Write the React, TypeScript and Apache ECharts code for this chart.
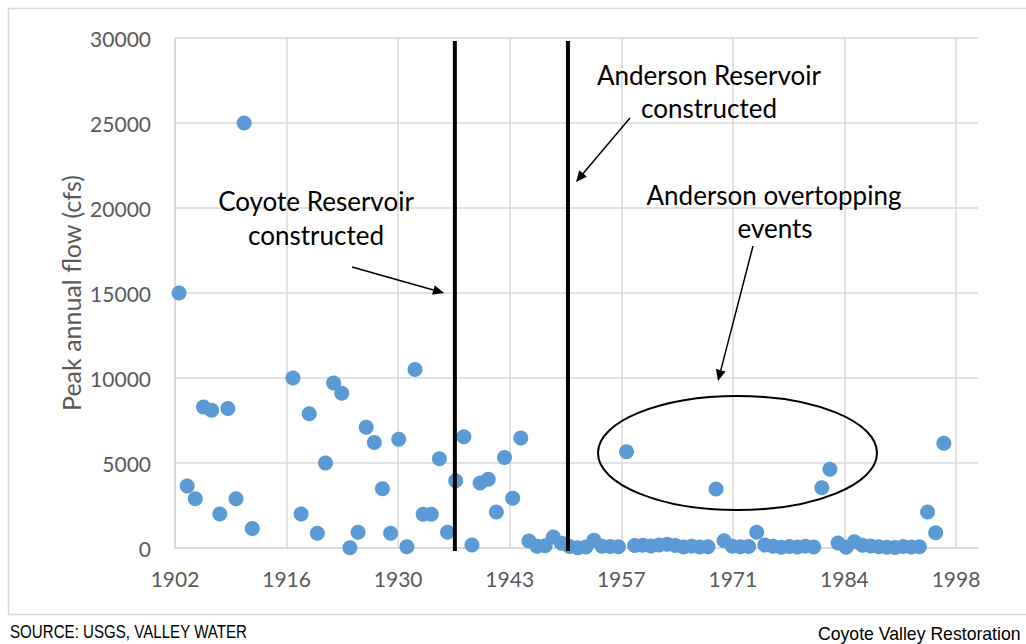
import React, { useEffect, useRef } from "react";
import * as echarts from "echarts";

// ---- data ----
const yearsEarly = [1902, 1903, 1904, 1905, 1906, 1907, 1908, 1909, 1910, 1911];
const flowEarly = [15000, 3650, 2900, 8300, 8100, 2000, 8200, 2900, 25000, 1150];

const yearsMid = [
  1916, 1917, 1918, 1919, 1920, 1921, 1922, 1923, 1924, 1925, 1926, 1927, 1928, 1929, 1930,
  1931, 1932, 1933, 1934, 1935, 1936, 1937, 1938, 1939, 1940, 1941, 1942, 1943, 1944,
];
const flowMid = [
  10000, 2000, 7900, 870, 5000, 9700, 9100, 20, 920, 7100, 6200, 3490, 870, 6400, 80,
  10500, 1980, 1980, 5250, 920, 3960, 6550, 180, 3820, 4040, 2120, 5320, 2920, 6470,
];

const yearsLate = [
  1945, 1946, 1947, 1948, 1949, 1950, 1951, 1952, 1953, 1954, 1955, 1956, 1957, 1958, 1959,
  1960, 1961, 1962, 1963, 1964, 1965, 1966, 1967, 1968, 1969, 1970, 1971, 1972, 1973, 1974,
  1975, 1976, 1977, 1978, 1979, 1980, 1981, 1982, 1983, 1984, 1985, 1986, 1987, 1988, 1989,
  1990, 1991, 1992, 1993, 1994, 1995, 1996,
];
const flowLate = [
  410, 100, 130, 650, 280, 90, 20, 60, 450, 100, 90, 70, 5660, 140, 160,
  120, 180, 220, 150, 60, 110, 60, 70, 3470, 420, 100, 80, 90, 930, 180,
  100, 40, 90, 60, 110, 60, 3550, 4630, 300, 40, 370, 160, 120, 70, 40,
  30, 90, 60, 70, 2120, 900, 6160,
];

const xTickLabels = ["1902", "1916", "1930", "1943", "1957", "1971", "1984", "1998"];
const X_MIN = 1902;
const X_LAST_TICK = 1998;
const X_PLOT_END = 2000.7; // plot area extends a little past the last labelled tick
const Y_MIN = 0;
const Y_MAX = 30000;
const Y_STEP = 5000;

const damYears = [1936.4, 1950.3]; // Coyote, Anderson reservoirs

const FONT = "Lato, 'Open Sans', sans-serif";
const GRID_COLOR = "#d9d9d9";
const LABEL_COLOR = "#595959";

function arrow(x1: number, y1: number, x2: number, y2: number) {
  const a = Math.atan2(y2 - y1, x2 - x1);
  const len = 11;
  const hw = 5;
  const bx = x2 - len * Math.cos(a);
  const by = y2 - len * Math.sin(a);
  const px = -Math.sin(a) * hw;
  const py = Math.cos(a) * hw;
  return [
    {
      type: "line",
      shape: { x1, y1, x2: bx, y2: by },
      style: { stroke: "#000", lineWidth: 1.5 },
      silent: true,
    },
    {
      type: "polygon",
      shape: { points: [[x2, y2], [bx + px, by + py], [bx - px, by - py]] },
      style: { fill: "#000" },
      silent: true,
    },
  ];
}

function annot(text: string, x: number, y: number) {
  return {
    type: "text",
    x,
    y,
    silent: true,
    style: {
      text,
      fill: "#000",
      font: `26px ${FONT}`,
      textAlign: "center",
      textVerticalAlign: "middle",
    },
  };
}

export default function App() {
  const ref = useRef<HTMLDivElement>(null);

  useEffect(() => {
    const chart = echarts.init(ref.current!, null, { renderer: "svg", width: 1026, height: 644 });

    const data: number[][] = [];
    // markers sit at the middle of each year
    yearsEarly.forEach((y, i) => data.push([y + 0.5, flowEarly[i]]));
    yearsMid.forEach((y, i) => data.push([y + 0.5, flowMid[i]]));
    yearsLate.forEach((y, i) => data.push([y + 0.5, flowLate[i]]));

    const baseGraphics: any[] = [
      {
        type: "rect",
        shape: { x: 8.5, y: 8.5, width: 1040, height: 606 },
        style: { fill: "none", stroke: GRID_COLOR, lineWidth: 1.5 },
        silent: true,
        z: -1,
      },
      annot("Coyote Reservoir", 316, 201),
      annot("constructed", 316, 235),
      annot("Anderson Reservoir", 709, 75),
      annot("constructed", 709, 108),
      annot("Anderson overtopping", 774, 195),
      annot("events", 775, 228),
      ...arrow(352, 267, 444, 293),
      ...arrow(630, 118, 576, 182),
      ...arrow(753, 246, 718, 381),
      {
        type: "ellipse",
        shape: { cx: 737.5, cy: 453, rx: 139.5, ry: 57 },
        style: { fill: "none", stroke: "#000", lineWidth: 2 },
        silent: true,
      },
      {
        type: "text",
        x: 10,
        y: 632,
        scaleX: 0.84,
        silent: true,
        style: {
          text: "SOURCE: USGS, VALLEY WATER",
          fill: "#000",
          font: "18px 'Liberation Sans', Arial, sans-serif",
          textVerticalAlign: "middle",
        },
      },
      {
        type: "text",
        x: 818,
        y: 634,
        scaleX: 0.98,
        silent: true,
        style: {
          text: "Coyote Valley Restoration",
          fill: "#000",
          font: "18px 'Liberation Sans', Arial, sans-serif",
          textVerticalAlign: "middle",
        },
      },
    ];

    chart.setOption({
      animation: false,
      backgroundColor: "#fff",
      textStyle: { fontFamily: FONT },
      grid: [
        { left: 175, right: 70, top: 38, bottom: 96 },
        { left: 175, right: 48, top: 38, bottom: 96 },
      ],
      xAxis: [
        {
          gridIndex: 0,
          type: "value",
          min: X_MIN,
          max: X_LAST_TICK,
          interval: (X_LAST_TICK - X_MIN) / (xTickLabels.length - 1),
          axisLine: { show: false },
          axisTick: { show: false },
          splitLine: { show: true, lineStyle: { color: GRID_COLOR, width: 1.5 } },
          axisLabel: {
            formatter: (_v: number, i: number) => xTickLabels[i] ?? "",
            color: LABEL_COLOR,
            fontSize: 21,
            fontFamily: FONT,
            margin: 20,
          },
        },
        {
          gridIndex: 1,
          type: "value",
          min: X_MIN,
          max: X_PLOT_END,
          axisLine: { show: true, lineStyle: { color: GRID_COLOR, width: 1.5 } },
          axisTick: { show: false },
          splitLine: { show: false },
          axisLabel: { show: false },
        },
      ],
      yAxis: [
        { gridIndex: 0, type: "value", min: Y_MIN, max: Y_MAX, show: false, splitLine: { show: false } },
        {
          gridIndex: 1,
          type: "value",
          min: Y_MIN,
          max: Y_MAX,
          interval: Y_STEP,
          axisLine: { show: true, lineStyle: { color: GRID_COLOR, width: 1.5 } },
          axisTick: { show: false },
          splitLine: { show: true, lineStyle: { color: GRID_COLOR, width: 1.5 } },
          axisLabel: {
            color: LABEL_COLOR,
            fontSize: 21,
            fontFamily: FONT,
            margin: 24,
            formatter: (v: number) => String(v),
          },
          name: "Peak annual flow (cfs)",
          nameLocation: "middle",
          nameGap: 92,
          nameMoveOverlap: false,
          nameTextStyle: { color: LABEL_COLOR, fontSize: 25, fontFamily: FONT },
        },
      ],
      series: [
        {
          type: "scatter",
          xAxisIndex: 1,
          yAxisIndex: 1,
          data,
          symbolSize: 15,
          clip: false,
          itemStyle: { color: "#5b9bd5", opacity: 1 },
          z: 3,
        },
      ],
      graphic: baseGraphics,
    });

    const damLines = damYears.map((yr) => {
      const px = chart.convertToPixel({ xAxisIndex: 1, yAxisIndex: 1 } as any, [yr, 0]) as number[];
      return {
        type: "line",
        shape: { x1: px[0], y1: 41, x2: px[0], y2: 551 },
        style: { stroke: "#000", lineWidth: 4 },
        silent: true,
        z: 10,
      };
    });
    chart.setOption({ graphic: [...baseGraphics, ...damLines] }, { replaceMerge: ["graphic"] } as any);

    return () => chart.dispose();
  }, []);

  return (
    <div
      ref={ref}
      style={{ position: "fixed", left: 0, top: 0, width: 1026, height: 644, background: "#fff" }}
    />
  );
}
